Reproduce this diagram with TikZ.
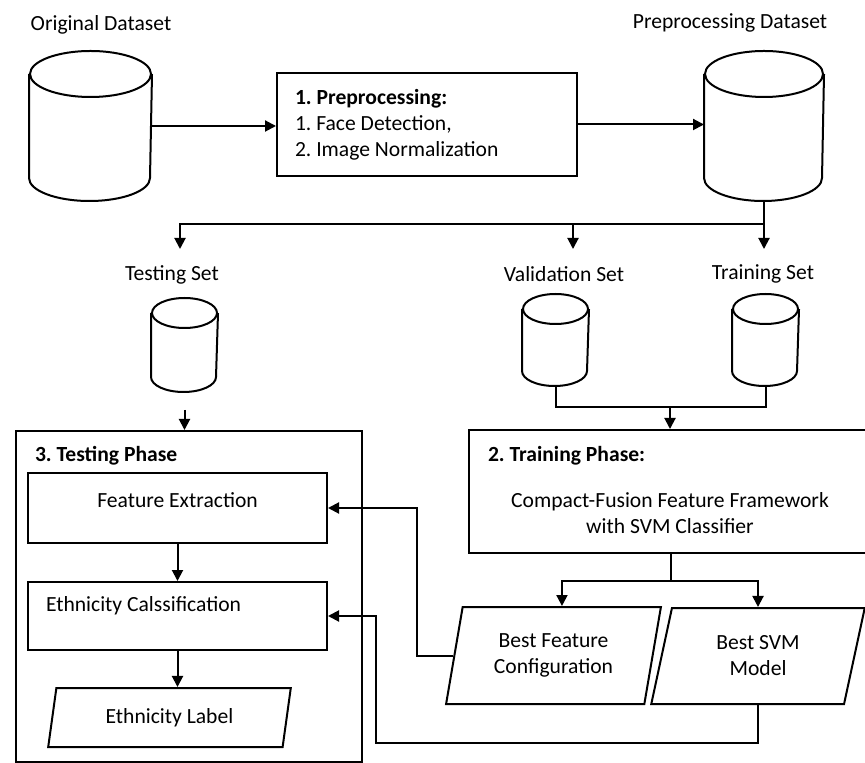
\documentclass[tikz,border=0pt]{standalone}
\usepackage{fontspec}
\setmainfont{Carlito}
\usetikzlibrary{shapes.geometric,arrows.meta}

\begin{document}
\frenchspacing
\begin{tikzpicture}[x=0.5pt,y=-0.5pt,line width=1pt,>={Triangle[length=5.5pt,width=5.5pt]},
  font=\fontsize{10.8pt}{13pt}\selectfont,
  db/.style={rectangle,inner sep=0pt},
  box/.style={draw,rectangle},
  iodata/.style={trapezium,trapezium left angle=76,trapezium right angle=104,
    trapezium stretches=true,draw,align=center,inner sep=0pt},
  phase/.style={font=\fontsize{10.8pt}{13pt}\selectfont\bfseries,inner sep=0pt,anchor=base west}]
  \useasboundingbox (0,0) rectangle (865,763);

  % datasets
  \node[db,minimum width=60.5pt,minimum height=74pt] (orig) at (90.5,126) {};
  \node (origlbl) at (101,25) {Original Dataset};
  \node[box,minimum width=150pt,minimum height=51.5pt,text width=132pt,inner xsep=9pt,align=flush left]
    (prep) at (427,124.5) {{\bfseries 1. Preprocessing:}\\1. Face Detection,\\2. Image Normalization};
  \node[db,minimum width=59pt,minimum height=74pt] (pd) at (764,126) {};
  \node (pdlbl) at (730,23) {Preprocessing Dataset};
  \draw[->] (orig.east) -- (orig.east -| prep.west);
  \draw[->] (prep.east) -- (prep.east -| pd.west);

  % split into sets
  \coordinate (split) at (764,224);
  \coordinate (totest) at (180,249);
  \coordinate (toval) at (573,249);
  \coordinate (totrain) at (764,249);
  \draw[->] (pd.south) -- (split) -| (totest);
  \draw[->] (split -| toval) -- (toval);
  \draw[->] (split) -- (totrain);
  \node (testlbl) at (172,275) {Testing Set};
  \node (vallbl) at (564,274) {Validation Set};
  \node (trainlbl) at (763,274) {Training Set};
  \node[db,minimum width=32.5pt,minimum height=46pt] (testcyl) at (184.5,345) {};
  \node[db,minimum width=32.5pt,minimum height=45pt] (valcyl) at (555.5,340) {};
  \node[db,minimum width=32.5pt,minimum height=45pt] (traincyl) at (765.5,340) {};

  % cylinder outlines
  \foreach \n/\rx/\ry in {orig/30.25/11.5,pd/29.5/11.5,testcyl/16.25/7.5,valcyl/16.25/7.5,traincyl/16.25/7.5}{
    \draw ([yshift=-\ry pt]\n.north) ellipse [x radius=\rx pt,y radius=\ry pt];
    \draw ([yshift=-\ry pt]\n.north west) -- ([yshift=\ry pt]\n.south west)
      arc [start angle=180,end angle=360,x radius=\rx pt,y radius=\ry pt]
      -- ([yshift=-\ry pt]\n.north east);
  }

  % training phase
  \coordinate (join) at (670,407);
  \node[box,minimum width=205.5pt,minimum height=61.5pt] (trainbox) at (674.5,491.5) {};
  \node[phase] (traintitle) at (487,461) {2. Training Phase:};
  \node[align=center] (trainbody) at (670,513) {Compact-Fusion Feature Framework\\with SVM Classifier};
  \draw (valcyl.south) |- (join) -| (traincyl.south);
  \draw[->] (join) -- (join |- trainbox.north);
  \node[iodata,minimum width=107.5pt,minimum height=48.5pt] (bfc) at (553.5,655.5) {Best Feature\\Configuration};
  \node[iodata,minimum width=107pt,minimum height=48pt] (bsm) at (758,656) {Best SVM\\Model};
  \coordinate (fork) at (671,581);
  \draw (trainbox.south -| fork) -- (fork);
  \draw[->] (fork) -| (bfc.top side);
  \draw[->] (fork) -| (bsm.north);

  % testing phase
  \node[box,minimum width=173pt,minimum height=165.5pt] (testbox) at (189,596.5) {};
  \node[phase] (testtitle) at (34,461) {3. Testing Phase};
  \draw[->,shorten <=9pt] (testcyl.south) -- (testcyl.south |- testbox.north);
  \node[box,minimum width=149.5pt,minimum height=35pt,inner ysep=7.5pt,text height=9.5pt,text depth=10.5pt]
    (fe) at (177.5,508) {Feature Extraction};
  \node[box,minimum width=149.5pt,minimum height=34pt,text width=131.5pt,inner xsep=9pt,align=flush left,
    inner ysep=7pt,text height=7.75pt,text depth=12.25pt] (ec) at (177.5,616) {Ethnicity Calssification};
  \node[iodata,minimum width=121.5pt,minimum height=29.5pt] (lbl) at (169.5,717.5) {Ethnicity Label};
  \draw[->] (fe) -- (ec);
  \draw[->] (ec.south) -- (ec.south |- lbl.north);

  % best models back to testing
  \draw[->] (bfc.left side) -| (417,580) |- (fe.east);
  \draw[->] (bsm.south) |- (376,743) |- (ec.east);
\end{tikzpicture}
\end{document}
